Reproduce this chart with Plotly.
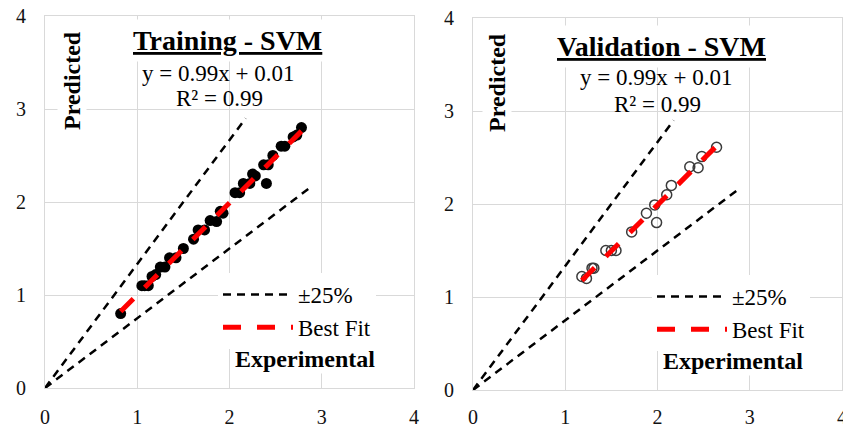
import plotly.graph_objects as go

# Training set: experimental vs predicted
train_exp = [0.82, 1.05, 1.08, 1.12, 1.16, 1.20, 1.25, 1.30, 1.35, 1.42, 1.50, 1.61,
             1.66, 1.73, 1.79, 1.86, 1.90, 1.93, 2.06, 2.11, 2.15, 2.22, 2.25, 2.28,
             2.37, 2.42, 2.40, 2.47, 2.56, 2.60, 2.69, 2.73, 2.78]
train_pred = [0.80, 1.10, 1.10, 1.10, 1.20, 1.22, 1.30, 1.30, 1.40, 1.40, 1.50, 1.60,
              1.70, 1.70, 1.80, 1.79, 1.90, 1.88, 2.10, 2.10, 2.20, 2.20, 2.30, 2.28,
              2.40, 2.40, 2.20, 2.50, 2.60, 2.60, 2.70, 2.72, 2.80]

# Validation set: experimental vs predicted
val_exp = [1.18, 1.23, 1.29, 1.31, 1.44, 1.50, 1.55, 1.72, 1.88, 1.97, 1.99,
           2.10, 2.15, 2.35, 2.44, 2.48, 2.64]
val_pred = [1.22, 1.20, 1.31, 1.31, 1.50, 1.50, 1.50, 1.70, 1.90, 1.99, 1.80,
            2.10, 2.20, 2.40, 2.39, 2.51, 2.61]

# Linear fit reported on each panel
fit_slope = 0.99
fit_intercept = 0.01
r_squared = 0.99

# +/-25 % band: lower bound y = 0.75x, upper bound y = x / 0.75
band_factor = 0.75
band_x_max = 2.9

axis_ticks = [0, 1, 2, 3, 4]

W, H = 843, 429
SERIF = "Liberation Serif"
GRID = "#d9d9d9"


def px(x):
    return x / W


def py(y):
    return 1 - y / H


fig = go.Figure()


def add_panel(xr, yr, legend, exp, pred, marker):
    # data points
    fig.add_trace(go.Scatter(x=exp, y=pred, mode="markers", marker=marker,
                             xaxis=xr, yaxis=yr, showlegend=False, legend=legend))
    # +/-25 % lines
    lo_x = [0, band_x_max]
    lo_y = [0, band_factor * band_x_max]
    hi_x = [0, band_factor * band_x_max]
    hi_y = [0, band_x_max]
    dash_line = dict(color="black", width=2.5, dash="8px,6px")
    fig.add_trace(go.Scatter(x=lo_x, y=lo_y, mode="lines", line=dash_line,
                             name="±25%", legendgroup="band" + legend,
                             xaxis=xr, yaxis=yr, legend=legend))
    fig.add_trace(go.Scatter(x=hi_x, y=hi_y, mode="lines", line=dash_line,
                             name="±25%", legendgroup="band" + legend, showlegend=False,
                             xaxis=xr, yaxis=yr, legend=legend))
    # best-fit line across the data range
    fx = [min(exp), max(exp)]
    fy = [fit_slope * v + fit_intercept for v in fx]
    fig.add_trace(go.Scatter(x=fx, y=fy, mode="lines",
                             line=dict(color="#ff0000", width=5, dash="18px,16px"),
                             name="Best Fit", xaxis=xr, yaxis=yr, legend=legend))


add_panel("x", "y", "legend", train_exp, train_pred,
          dict(color="black", size=11))
add_panel("x2", "y2", "legend2", val_exp, val_pred,
          dict(color="rgba(0,0,0,0)", size=10, line=dict(color="#3a3a3a", width=1.5)))

axis_common = dict(range=[0, 4], tickvals=axis_ticks, showgrid=True, gridcolor=GRID,
                   gridwidth=1, zeroline=False, showline=True, linecolor=GRID,
                   linewidth=1, mirror=True, ticks="", automargin=False,
                   ticklabeloverflow="allow",
                   tickfont=dict(family=SERIF, size=20, color="#111111"))

legend_font = dict(family=SERIF, size=23, color="black")

fig.update_layout(
    width=W, height=H,
    margin=dict(l=0, r=0, t=0, b=0, autoexpand=False),
    paper_bgcolor="white", plot_bgcolor="white",
    xaxis=dict(domain=[px(45), px(414)], anchor="y", ticklabelstandoff=11, **axis_common),
    yaxis=dict(domain=[py(388), py(16)], anchor="x", ticklabelstandoff=14, **axis_common),
    xaxis2=dict(domain=[px(473), px(842)], anchor="y2", ticklabelstandoff=9, **axis_common),
    yaxis2=dict(domain=[py(390), py(18)], anchor="x2", ticklabelstandoff=14, **axis_common),
    legend=dict(x=px(218), y=py(273), xanchor="left", yanchor="top",
                bgcolor="white", itemwidth=70, tracegroupgap=0, font=legend_font),
    legend2=dict(x=px(652), y=py(275), xanchor="left", yanchor="top",
                 bgcolor="white", itemwidth=70, tracegroupgap=0, font=legend_font),
)


def note(text, x, y, size, bold=False, angle=0, bg=None, pad=1):
    fig.add_annotation(text=("<b>%s</b>" % text) if bold else text,
                       x=px(x), y=py(y), xref="paper", yref="paper",
                       xanchor="center", yanchor="middle", showarrow=False,
                       textangle=angle, bgcolor=bg, borderpad=pad,
                       font=dict(family=SERIF, size=size, color="black"))


# panel titles
note("<u>Training - SVM</u>", 227, 41, 28, bold=True, bg="white", pad=5)
note("<u>Validation - SVM</u>", 661, 46, 28, bold=True, bg="white", pad=5)

# fit equations
eq = "y = %.2fx + %.2f" % (fit_slope, fit_intercept)
r2 = "R² = %.2f" % r_squared
note(eq, 218, 74, 23)
note(r2, 219, 98, 23)
note(eq, 656, 77, 23)
note(r2, 657, 104, 23)

# axis titles placed inside the plot area
note("Predicted", 72, 81, 24, bold=True, angle=-90, bg="white")
note("Predicted", 497, 83, 24, bold=True, angle=-90, bg="white")
note("Experimental", 305, 359, 24, bold=True, bg="white")
note("Experimental", 733, 361, 24, bold=True, bg="white")

fig.write_html("out.html")
